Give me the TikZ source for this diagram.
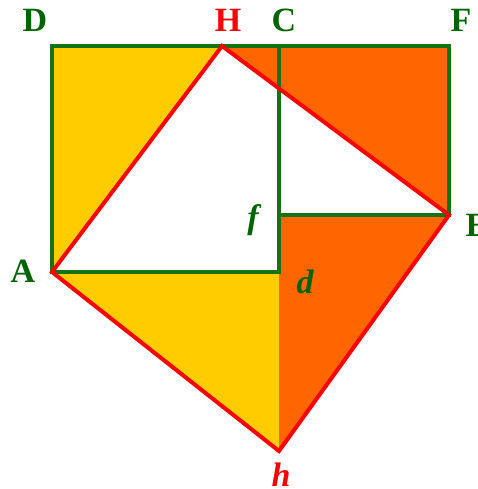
\documentclass[tikz,border=0pt]{standalone}
\usepackage{fontspec}
\setmainfont{Liberation Serif}
\definecolor{gline}{RGB}{20,115,20}
\definecolor{glbl}{RGB}{0,100,0}
\definecolor{yel}{RGB}{255,204,0}
\definecolor{org}{RGB}{255,102,0}
\definecolor{rline}{RGB}{255,0,0}
\begin{document}
\begin{tikzpicture}[x=1pt,y=-1pt,
  gedge/.style={draw=gline,line width=4pt,line cap=rect,line join=miter},
  redge/.style={draw=rline,line width=4pt,line join=miter,line cap=round},
  lab/.style={inner sep=0pt,anchor=base,font=\fontsize{34}{40}\selectfont\bfseries},
  glab/.style={lab,text=glbl},
  rlab/.style={lab,text=rline}]
\useasboundingbox (0,0) rectangle (477,489);
\coordinate (D) at (52,46);
\coordinate (H) at (222,46);
\coordinate (C) at (279,46);
\coordinate (F) at (449,46);
\coordinate (E) at (449,215);
\coordinate (f) at (279,215);
\coordinate (A) at (52,272);
\coordinate (d) at (279,272);
\coordinate (h) at (279,451);
% fills
\fill[yel] (D) -- (H) -- (A) -- cycle;
\fill[yel] (A) -- (d) -- (h) -- cycle;
\fill[org] (H) -- (F) -- (E) -- cycle;
\fill[org] (f) -- (E) -- (h) -- cycle;
% green lines
\draw[gedge] (A) -- (D) -- (F) -- (E) -- (f);
\draw[gedge] (C) -- (d) -- (A);
% red square
\draw[redge] (A) -- (H) -- (E) -- (h) -- cycle;
% labels
\node[glab] (lD) at (35,32) {D};
\node[rlab] (lH) at (228,32) {H};
\node[glab] (lC) at (284,32) {C};
\node[glab] (lF) at (461,32) {F};
\node[glab] (lE) at (477,236) {E};
\node[glab] (lA) at (23,282) {A};
\node[glab,font=\fontsize{34}{40}\selectfont\bfseries\itshape] (lf) at (253,228) {f};
\node[glab,font=\fontsize{34}{40}\selectfont\bfseries\itshape] (ld) at (305,293) {d};
\node[rlab,font=\fontsize{34}{40}\selectfont\bfseries\itshape] (lh) at (281,486) {h};
\end{tikzpicture}
\end{document}
